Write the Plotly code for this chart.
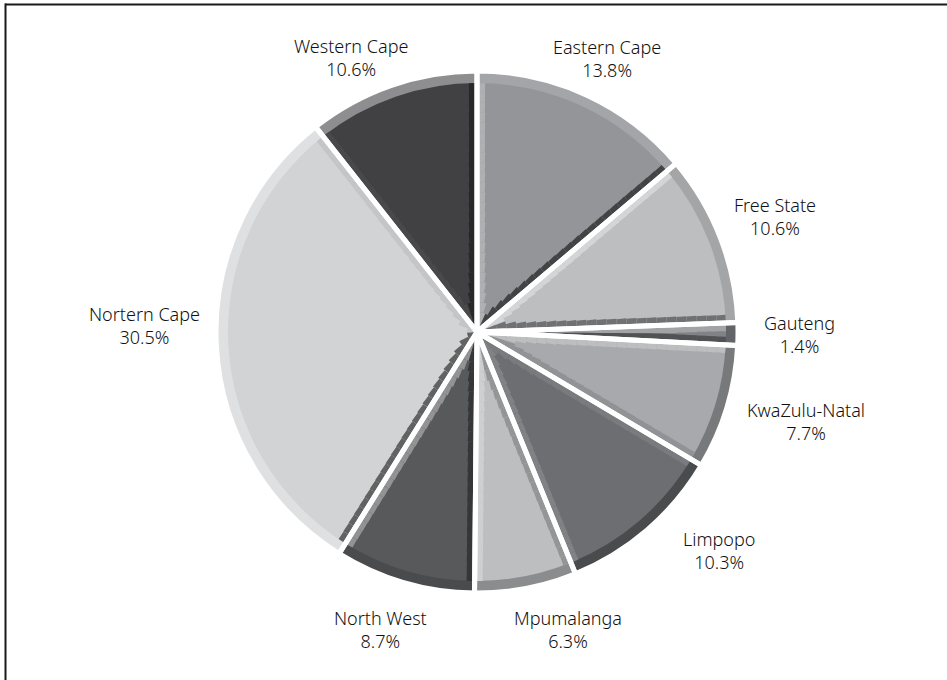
import math
import plotly.graph_objects as go

# Share of total by province (percent)
provinces = ["Eastern Cape", "Free State", "Gauteng", "KwaZulu-Natal", "Limpopo",
             "Mpumalanga", "North West", "Nortern Cape", "Western Cape"]
shares = [13.8, 10.6, 1.4, 7.7, 10.3, 6.3, 8.7, 30.5, 10.6]
base_colors = ["#939598", "#bcbec0", "#808285", "#a7a9ac", "#6d6e71",
               "#bcbec0", "#58595b", "#d1d3d4", "#414042"]

# Canvas / pie geometry (pixels)
W, H = 947, 680
CX, CY = 477, 332
R = 260
RIM = 11          # width of the bevelled outer rim
BEVEL = 8         # width of the bevel along the radial edges
GAP = 5           # white separator width
LIGHT = 315.0     # light comes from the upper left (clockwise degrees from 12 o'clock)

# label placement tweaks: angular shift (deg) and radial shift (px) per label
label_turn = [0.6, 0.0, 0.0, -1.7, -7.2, -6.2, 1.7, 4.2, -5.5]
label_push = [-5, -4, 14, -2, 3, -5, -7, 0, 0]

total = sum(shares)


def hex_rgb(c):
    c = c.lstrip("#")
    return [int(c[i:i + 2], 16) for i in (0, 2, 4)]


def shade(c, b, up=0.36, down=0.55):
    r = hex_rgb(c)
    if b >= 0:
        r = [v + (255 - v) * up * b for v in r]
    else:
        r = [v * (1 - down * (-b)) for v in r]
    return "rgb(%d,%d,%d)" % tuple(round(v) for v in r)


def brightness(normal_deg):
    return math.cos(math.radians(normal_deg - LIGHT))


def domain(r):
    return dict(x=[(CX - r) / W, (CX + r) / W],
                y=[1 - (CY + r) / H, 1 - (CY - r) / H])


# slice angles
starts, mids, ends = [], [], []
acc = 0.0
for s in shares:
    a0 = acc / total * 360
    acc += s
    a1 = acc / total * 360
    starts.append(a0)
    ends.append(a1)
    mids.append((a0 + a1) / 2)

rim_colors = [shade(c, brightness(m), up=0.45, down=0.32) for c, m in zip(base_colors, mids)]
start_colors = [shade(c, brightness(a - 90)) for c, a in zip(base_colors, starts)]
end_colors = [shade(c, brightness(a + 90)) for c, a in zip(base_colors, ends)]

common = dict(sort=False, direction="clockwise", rotation=0, textinfo="none",
              hoverinfo="skip", showlegend=False)

fig = go.Figure()

# outer rim (bevel face)
fig.add_trace(go.Pie(values=shares, labels=provinces, domain=domain(R),
                     marker=dict(colors=rim_colors, line=dict(width=0)), **common))
# main face
fig.add_trace(go.Pie(values=shares, labels=provinces, domain=domain(R - RIM),
                     marker=dict(colors=base_colors, line=dict(width=0)), **common))

# bevels along the radial edges, built from thin concentric rings so the band keeps its width
step = 10
ring_edges = list(range(0, R - RIM, step)) + [R - RIM]
clear = "rgba(0,0,0,0)"
for r0, r1 in zip(ring_edges[:-1], ring_edges[1:]):
    rmid = max((r0 + r1) / 2, 6)
    band_deg = math.degrees(BEVEL / rmid)
    vals, cols, labs = [], [], []
    for name, s, c0, c1 in zip(provinces, shares, start_colors, end_colors):
        e = min(band_deg * total / 360, s / 2)
        vals += [e, s - 2 * e, e]
        cols += [c0, clear, c1]
        labs += [name + " a", name + " b", name + " c"]
    fig.add_trace(go.Pie(values=vals, labels=labs, domain=domain(r1),
                         hole=r0 / r1,
                         marker=dict(colors=cols, line=dict(width=0)), **common))

# white separators on top
fig.add_trace(go.Pie(values=shares, labels=provinces, domain=domain(R + 1),
                     marker=dict(colors=[clear] * len(shares),
                                 line=dict(color="white", width=GAP)), **common))

# labels outside each slice
FONT = 18
annotations = []
for name, s, m, turn, push in zip(provinces, shares, mids, label_turn, label_push):
    t = math.radians(m)
    ux, uy = math.sin(t), math.cos(t)
    w = 9.0 * len(name)
    h = 46
    g = 17 + 11 * (-uy)
    lo, hi = R, R + 200
    for _ in range(60):
        r = (lo + hi) / 2
        bx, by = r * ux, r * uy
        nx = 0 if abs(bx) < w / 2 else abs(bx) - w / 2
        ny = 0 if abs(by) < h / 2 else abs(by) - h / 2
        if math.hypot(nx, ny) < R + g:
            lo = r
        else:
            hi = r
    r = (lo + hi) / 2 + push
    t = math.radians(m + turn)
    ux, uy = math.sin(t), math.cos(t)
    annotations.append(dict(
        x=(CX + r * ux) / W, y=1 - (CY - r * uy) / H, xref="paper", yref="paper",
        xanchor="center", yanchor="middle", showarrow=False, align="center",
        text=f"{name}<br>{s:.1f}%",
        font=dict(family="Noto Sans, Open Sans, sans-serif", size=FONT,
                  weight=300, color="#111111")))

# frame lines at the top and the left
shapes = [
    dict(type="line", xref="paper", yref="paper", x0=5 / W, x1=1, y0=1 - 4.5 / H, y1=1 - 4.5 / H,
         line=dict(color="#1a1a1a", width=2)),
    dict(type="line", xref="paper", yref="paper", x0=5.5 / W, x1=5.5 / W, y0=0, y1=1 - 3.5 / H,
         line=dict(color="#1a1a1a", width=2)),
]

fig.update_layout(width=W, height=H, margin=dict(l=0, r=0, t=0, b=0),
                  paper_bgcolor="white", plot_bgcolor="white",
                  annotations=annotations, shapes=shapes)

fig.write_html("out.html")
